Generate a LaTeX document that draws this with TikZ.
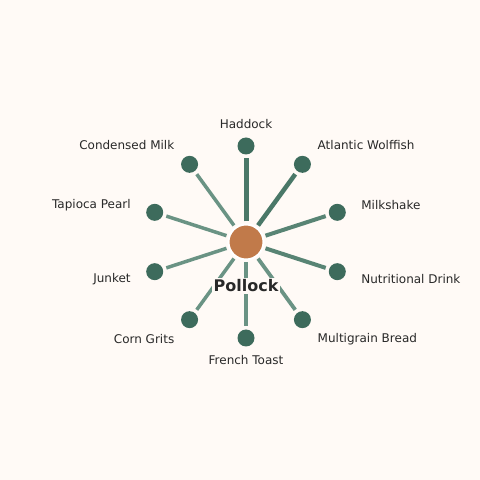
\documentclass[tikz,border=0pt]{standalone}
\usepackage{fontspec}
\setmainfont{DejaVu Sans}
\usetikzlibrary{positioning, calc}
\definecolor{bgcolor}{RGB}{255, 250, 246}
\definecolor{hubcolor}{RGB}{193, 122, 74}
\definecolor{leafcolor}{RGB}{61, 107, 92}
\definecolor{spokedark}{RGB}{74, 120, 104}
\definecolor{spokemid}{RGB}{88, 132, 116}
\definecolor{spokelight}{RGB}{106, 147, 132}
\definecolor{textcolor}{RGB}{40, 40, 40}

\begin{document}
\begin{tikzpicture}[
    x=1pt, y=1pt,
    hub/.style={circle, fill=hubcolor, draw=white, line width=2pt, minimum size=35pt, inner sep=0pt},
    leaf/.style={circle, fill=leafcolor, minimum size=17pt, inner sep=0pt},
    label/.style={font=\fontsize{12}{14}\selectfont, text=textcolor, inner sep=1pt},
    spoke/.style={shorten <=2pt, shorten >=3.5pt},
    title/.style={font=\fontsize{16}{18}\selectfont\bfseries, text=textcolor, fill=bgcolor, inner sep=2pt}
]
    \useasboundingbox[fill=bgcolor] (0,0) rectangle (480,480);

    % Centre
    \coordinate (c) at (246,238);
    \node[hub] (pollock) at (c) {};

    % Leaves
    \node[leaf] (haddock) at ($(c)+(90:96)$) {};
    \node[leaf] (wolffish) at ($(c)+(54:96)$) {};
    \node[leaf] (milkshake) at ($(c)+(18:96)$) {};
    \node[leaf] (nutritional) at ($(c)+(-18:96)$) {};
    \node[leaf] (multigrain) at ($(c)+(-54:96)$) {};
    \node[leaf] (toast) at ($(c)+(-90:96)$) {};
    \node[leaf] (grits) at ($(c)+(-126:96)$) {};
    \node[leaf] (junket) at ($(c)+(-162:96)$) {};
    \node[leaf] (tapioca) at ($(c)+(162:96)$) {};
    \node[leaf] (condensed) at ($(c)+(126:96)$) {};

    % Spokes
    \draw[spoke, spokedark, line width=5pt] (pollock) -- (haddock);
    \draw[spoke, spokedark, line width=4.5pt] (pollock) -- (wolffish);
    \draw[spoke, spokemid, line width=4pt] (pollock) -- (milkshake);
    \draw[spoke, spokemid, line width=4pt] (pollock) -- (nutritional);
    \draw[spoke, spokelight, line width=3.8pt] (pollock) -- (multigrain);
    \draw[spoke, spokelight, line width=3.8pt] (pollock) -- (toast);
    \draw[spoke, spokelight, line width=3.5pt] (pollock) -- (grits);
    \draw[spoke, spokelight, line width=3.5pt] (pollock) -- (junket);
    \draw[spoke, spokelight, line width=3.5pt] (pollock) -- (tapioca);
    \draw[spoke, spokelight, line width=3.5pt] (pollock) -- (condensed);

    % Labels
    \node[label] (lhaddock) at ($(c)+(90:118)$) {Haddock};
    \node[label, anchor=west] (lwolffish) at ($(c)+(54:120)$) {Atlantic Wolffish};
    \node[label, anchor=west] (lmilkshake) at ($(c)+(18:120)$) {Milkshake};
    \node[label, anchor=west] (lnutritional) at ($(c)+(-18:120)$) {Nutritional Drink};
    \node[label, anchor=west] (lmultigrain) at ($(c)+(-54:120)$) {Multigrain Bread};
    \node[label] (ltoast) at ($(c)+(-90:118)$) {French Toast};
    \node[label, anchor=east] (lgrits) at ($(c)+(-126:120)$) {Corn Grits};
    \node[label, anchor=east] (ljunket) at ($(c)+(-162:120)$) {Junket};
    \node[label, anchor=east] (ltapioca) at ($(c)+(162:120)$) {Tapioca Pearl};
    \node[label, anchor=east] (lcondensed) at ($(c)+(126:120)$) {Condensed Milk};

    \node[title] (ltitle) at ($(c)+(0,-44)$) {Pollock};
\end{tikzpicture}
\end{document}
